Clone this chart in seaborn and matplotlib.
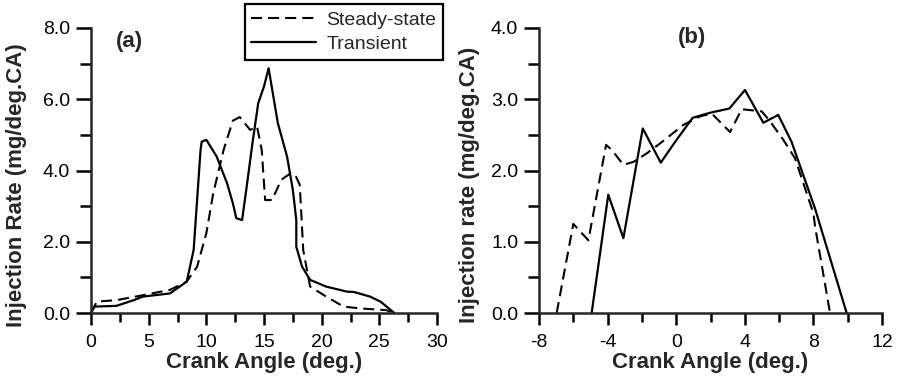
import matplotlib
matplotlib.use("Agg")
import matplotlib.pyplot as plt
from matplotlib.ticker import MultipleLocator, FormatStrFormatter
import seaborn as sns
import pandas as pd

# ---- data panel (a) ----
a_steady_x = [0.0, 0.5, 2.2, 4.5, 6.85, 8.3, 9.2, 10.0, 10.6, 11.5, 12.3, 12.9, 13.8, 14.4,
              14.8, 15.1, 15.7, 16.5, 17.3, 17.7, 18.1, 18.4, 19.0, 20.4, 21.9, 23.3, 25.6, 26.3]
a_steady_y = [0.0, 0.32, 0.36, 0.50, 0.65, 0.88, 1.30, 2.24, 3.36, 4.58, 5.40, 5.50, 5.14, 5.23,
              4.58, 3.17, 3.17, 3.74, 3.92, 3.88, 3.60, 1.77, 0.74, 0.46, 0.18, 0.13, 0.08, 0.0]
a_trans_x = [0.0, 0.3, 2.2, 3.7, 4.5, 6.85, 8.3, 8.9, 9.5, 9.6, 10.0, 10.9, 11.8, 12.3, 12.6,
             13.1, 13.5, 14.0, 14.5, 15.0, 15.4, 16.2, 17.0, 17.5, 17.8, 17.8, 18.3, 19.0, 20.4,
             22.2, 22.8, 24.2, 25.1, 26.3]
a_trans_y = [0.0, 0.18, 0.20, 0.36, 0.46, 0.55, 0.88, 1.77, 4.58, 4.81, 4.86, 4.39, 3.64, 3.08,
             2.66, 2.61, 3.55, 4.77, 5.89, 6.36, 6.87, 5.33, 4.39, 3.46, 2.61, 1.86, 1.30, 0.93,
             0.74, 0.60, 0.59, 0.46, 0.32, 0.0]

# ---- data panel (b) ----
b_steady_x = [-6.97, -6.0, -5.12, -4.09, -3.76, -3.08, -2.5, -1.72, -0.94, 0.42, 1.39, 2.07,
              3.14, 3.82, 4.99, 5.47, 6.25, 6.93, 8.0, 8.1, 8.97]
b_steady_y = [0.0, 1.25, 1.02, 2.36, 2.29, 2.08, 2.12, 2.24, 2.38, 2.64, 2.76, 2.80,
              2.54, 2.86, 2.83, 2.69, 2.43, 2.17, 1.40, 1.21, 0.0]
b_trans_x = [-4.93, -3.96, -3.08, -1.95, -0.9, -0.07, 0.96, 1.97, 3.1, 4.01, 5.08, 5.95,
             6.73, 8.09, 9.94]
b_trans_y = [0.0, 1.66, 1.05, 2.59, 2.11, 2.40, 2.74, 2.81, 2.87, 3.13, 2.67, 2.78,
             2.40, 1.47, 0.0]

series_names = ["Steady-state", "Transient"]
panel_labels = ["(a)", "(b)"]
xlabel = "Crank Angle (deg.)"
ylabels = ["Injection Rate (mg/deg.CA)", "Injection rate (mg/deg.CA)"]

sns.set_theme(style="ticks")
plt.rcParams["font.family"] = ["Liberation Sans", "DejaVu Sans"]
plt.rcParams["axes.unicode_minus"] = False
plt.rcParams["axes.linewidth"] = 1.8

fig = plt.figure(figsize=(8.97, 3.82), dpi=100)
axa = fig.add_axes([91/897, 1-313/382, (437-91)/897, (313-28)/382])
axb = fig.add_axes([539/897, 1-313/382, (882-539)/897, (313-28)/382])

dash = (0, (5.3, 2.9))

def draw(ax, sx, sy, tx, ty):
    ds = pd.DataFrame({"x": sx, "y": sy})
    dt = pd.DataFrame({"x": tx, "y": ty})
    sns.lineplot(data=ds, x="x", y="y", ax=ax, color="black", lw=1.5, sort=False,
                 estimator=None, label=series_names[0], linestyle=dash)
    sns.lineplot(data=dt, x="x", y="y", ax=ax, color="black", lw=1.6, sort=False,
                 estimator=None, label=series_names[1])

draw(axa, a_steady_x, a_steady_y, a_trans_x, a_trans_y)
draw(axb, b_steady_x, b_steady_y, b_trans_x, b_trans_y)

fs = 16
for ax, yl in zip([axa, axb], ylabels):
    sns.despine(ax=ax)
    ax.spines["left"].set_linewidth(1.8)
    ax.spines["bottom"].set_linewidth(1.8)
    ax.set_xlabel(xlabel, fontsize=fs, fontweight="bold", labelpad=1)
    ax.set_ylabel(yl, fontsize=fs, fontweight="bold")
    ax.yaxis.set_major_formatter(FormatStrFormatter("%.1f"))
    ax.tick_params(which="major", direction="out", width=1.8, labelsize=14,
                   color="black", labelcolor="black")
    ax.tick_params(axis="x", which="major", length=8.6, pad=6.5)
    ax.tick_params(axis="x", which="minor", length=6.5, width=1.8, color="black")
    ax.tick_params(axis="y", which="major", length=11, pad=4)
    ax.tick_params(axis="y", which="minor", length=8, width=1.8, color="black")
    ax.set_facecolor("white")

axa.yaxis.set_label_coords(-0.185, 0.45)
axb.yaxis.set_label_coords(-0.172, 0.45)

axa.set_xlim(0, 30)
axa.set_ylim(0, 8)
axa.xaxis.set_major_locator(MultipleLocator(5))
axa.xaxis.set_minor_locator(MultipleLocator(2.5))
axa.yaxis.set_major_locator(MultipleLocator(2))
axa.yaxis.set_minor_locator(MultipleLocator(1))

axb.set_xlim(-8, 12)
axb.set_ylim(0, 4)
axb.xaxis.set_major_locator(MultipleLocator(4))
axb.xaxis.set_minor_locator(MultipleLocator(2))
axb.yaxis.set_major_locator(MultipleLocator(1))
axb.yaxis.set_minor_locator(MultipleLocator(0.5))

fig.text(129/897, 1-41/382, panel_labels[0], fontsize=fs,
         fontweight="bold", ha="center", va="center")
fig.text(692/897, 1-37/382, panel_labels[1], fontsize=fs,
         fontweight="bold", ha="center", va="center")

axb.get_legend().remove()
leg = axa.legend(loc="upper right", bbox_to_anchor=(443/897, 1-4.5/382),
                 bbox_transform=fig.transFigure, fontsize=14, frameon=True, fancybox=False,
                 handlelength=3.3, handletextpad=0.55, borderpad=0.35, labelspacing=0.32,
                 borderaxespad=0)
leg.get_frame().set_edgecolor("black")
leg.get_frame().set_linewidth(1.6)
leg.get_frame().set_alpha(1)

for ax in (axa, axb):
    for ln in ax.get_lines():
        ln.set_clip_on(False)

fig.savefig("out.png", dpi=100, facecolor="white")
